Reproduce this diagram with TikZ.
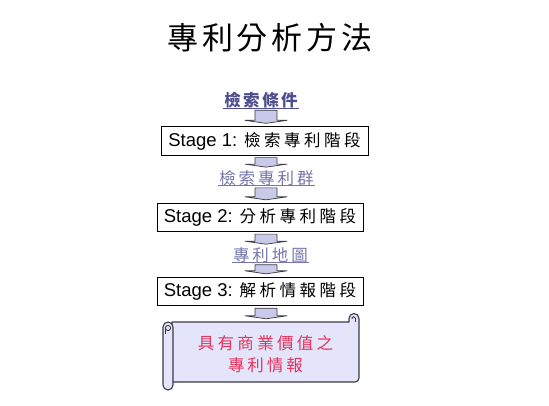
\documentclass[tikz,border=0pt]{standalone}
\usepackage{fontspec}
\setmainfont{Liberation Sans}
\newfontfamily\cjk{Noto Sans CJK TC}
\usetikzlibrary{calc}
\definecolor{lblA}{HTML}{4D4D8F}
\definecolor{lblB}{HTML}{7676AC}
\definecolor{arrfill}{HTML}{C9C9EA}
\definecolor{scrollfill}{HTML}{E4E4FA}
\definecolor{scrolltext}{HTML}{E6325A}
\definecolor{lineclr}{HTML}{3A3A44}
\makeatletter
\newcommand\spaced[2]{\def\sp@first{1}\@tfor\sp@c:=#2\do{\ifx\sp@first\@empty\hspace{#1}\fi\let\sp@first\@empty\sp@c}}
\makeatother
\newcommand\stagetext[2]{{\fontsize{18.5}{18.5}\selectfont Stage #1:}\hspace{7pt}{\cjk\fontsize{16.5}{16.5}\selectfont\spaced{3.5pt}{#2}}}
\newcommand\blockarrow[2]{%
  \draw[barrow] let \p1=(#1.south), \p2=(#2.north) in
  (255pt,{\y1-2pt}) -- (277pt,{\y1-2pt}) -- (277pt,{\y2+6pt}) -- (287pt,{\y2+6pt})
  -- (266pt,{\y2+3pt}) -- (245pt,{\y2+6pt}) -- (255pt,{\y2+6pt}) -- cycle;}
\tikzset{
  stagebox/.style={draw=black, line width=0.8pt, inner sep=0pt, minimum height=28.5pt},
  lbl/.style={inner sep=0pt, font=\cjk\fontsize{16.5}{16.5}\selectfont},
  barrow/.style={draw=lineclr, fill=arrfill, line width=0.7pt, line join=round},
  scrollline/.style={draw=lineclr, line width=1.1pt, line join=round},
}
\begin{document}
\begin{tikzpicture}[x=1pt,y=-1pt]
\useasboundingbox[fill=white] (0,0) rectangle (549,406);
% title
\node[inner sep=0pt, font=\cjk\fontsize{31}{31}\selectfont] (title) at (270,38) {\spaced{4pt}{專利分析方法}};
% labels
\node[lbl, text=lblA, font=\cjk\bfseries\fontsize{16.5}{16.5}\selectfont] (l1) at (261,100) {\spaced{2.5pt}{檢索條件}};
\draw[lblA, line width=0.8pt] ([xshift=-1pt]l1.south west) -- ([xshift=1pt]l1.south east);
\node[stagebox, minimum width=207pt] (s1) at (264.5,141) {\stagetext{1}{檢索專利階段}};
\node[lbl, text=lblB] (l2) at (266.5,178) {\spaced{3pt}{檢索專利群}};
\draw[lblB, line width=0.8pt] ([xshift=-1pt]l2.south west) -- ([xshift=1pt]l2.south east);
\node[stagebox, minimum width=206pt] (s2) at (260,217.5) {\stagetext{2}{分析專利階段}};
\node[lbl, text=lblB] (l3) at (270.5,255) {\spaced{3pt}{專利地圖}};
\draw[lblB, line width=0.8pt] ([xshift=-1pt]l3.south west) -- ([xshift=1pt]l3.south east);
\node[stagebox, minimum width=206pt] (s3) at (260,291.5) {\stagetext{3}{解析情報階段}};
% scroll shape
\path[scrollline, fill=scrollfill] (172,322) -- (349,322) -- (349,318.5)
  arc[start angle=180, end angle=0, radius=5pt] -- (359,378)
  arc[start angle=0, end angle=-90, radius=4pt] -- (172,382) -- cycle;
\draw[lineclr, line width=0.9pt] (355.5,322) -- (355.5,318.5) arc[start angle=0, end angle=200, radius=1.8pt];
\path[scrollline, fill=scrollfill, rounded corners=5pt] (163,322) rectangle (173,390);
\draw[lineclr, line width=0.9pt] (168,328) circle[radius=2.6pt];
\draw[lineclr, line width=0.9pt] (165.4,328) -- (165.4,334);
\node[inner sep=0pt, minimum width=187pt, minimum height=60pt] (scroll) at (265.5,352) {};
\node[inner sep=0pt, align=center, text=scrolltext, font=\cjk\fontsize{16.5}{22}\selectfont]
  (scrolltxt) at ([yshift=-2pt]scroll.center)
  {\spaced{3.3pt}{具有商業價值之}\\\spaced{3pt}{專利情報}};
% arrows
\blockarrow{l1}{s1}
\blockarrow{s1}{l2}
\blockarrow{l2}{s2}
\blockarrow{s2}{l3}
\blockarrow{l3}{s3}
\blockarrow{s3}{scroll}
\end{tikzpicture}
\end{document}
